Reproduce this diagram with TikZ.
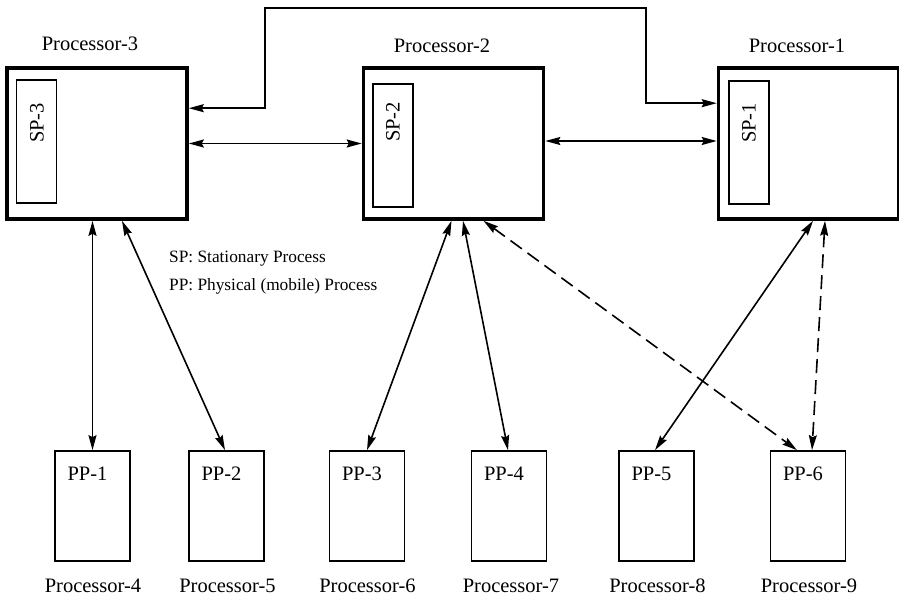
\documentclass[tikz,border=0pt]{standalone}
\usepackage{fontspec}
\setmainfont{Liberation Serif}
\usetikzlibrary{arrows.meta,calc}
\begin{document}
\begin{tikzpicture}[x=1pt,y=-1pt,
  procbox/.style={draw,line width=3.6pt,minimum width=180pt,minimum height=151pt,inner sep=0pt},
  spbox/.style={draw,line width=1.4pt,minimum width=40pt,minimum height=123pt,inner sep=0pt},
  ppbox/.style={draw,line width=1.7pt,minimum width=75pt,minimum height=110pt,inner sep=0pt},
  lbl/.style={font=\fontsize{20.5}{23}\selectfont,inner sep=0pt},
  leg/.style={font=\fontsize{17.3}{20}\selectfont,inner sep=0pt,anchor=base west},
  arr/.style={line width=1.6pt,{Stealth[length=15pt,width=8pt,inset=2pt]}-{Stealth[length=15pt,width=8pt,inset=2pt]}},
  dsh/.style={arr,dash pattern=on 14pt off 7pt}]
\useasboundingbox (0,0) rectangle (899,596);
\fill[white] (0,0) rectangle (899,596);

% Processor boxes
\node[procbox] (p3) at (97,143.5) {};
\node[procbox] (p2) at (453.5,143.5) {};
\node[procbox] (p1) at (808.5,143.5) {};

\node[lbl] (l3) at (90,44) {Processor-3};
\node[lbl] (l2) at (442,46) {Processor-2};
\node[lbl] (l1) at (797,46) {Processor-1};

% SP boxes
\node[spbox] (sp3) at (36.5,141.5) {};
\node[spbox] (sp2) at (393,145.5) {};
\node[spbox] (sp1) at (749,142.5) {};
\node[lbl,rotate=90] (t3) at (37,123) {SP-3};
\node[lbl,rotate=90] (t2) at (393,122) {SP-2};
\node[lbl,rotate=90] (t1) at (749,123) {SP-1};

% PP boxes
\node[ppbox] (pp1) at (92.5,506) {};
\node[ppbox] (pp2) at (226.5,506) {};
\node[ppbox] (pp3) at (367,506) {};
\node[ppbox] (pp4) at (509,506) {};
\node[ppbox] (pp5) at (656.5,506) {};
\node[ppbox] (pp6) at (808,506) {};

\foreach \i in {1,...,6}{
  \node[lbl] (ppt\i) at ($(pp\i.north)+(-5,24)$) {PP-\i};
}
\node[lbl] (q4) at ($(pp1.south)+(0.5,24)$) {Processor-4};
\node[lbl] (q5) at ($(pp2.south)+(1,24)$) {Processor-5};
\node[lbl] (q6) at ($(pp3.south)+(0.5,24)$) {Processor-6};
\node[lbl] (q7) at ($(pp4.south)+(2,24)$) {Processor-7};
\node[lbl] (q8) at ($(pp5.south)+(1,24)$) {Processor-8};
\node[lbl] (q9) at ($(pp6.south)+(1,24)$) {Processor-9};

% Legend
\node[leg] (lg1) at (169,262) {SP: Stationary Process};
\node[leg] (lg2) at (169,290) {PP: Physical (mobile) Process};

% Top bracket connector
\coordinate (a) at ($(p3.north east)+(0,42)$);
\coordinate (b) at ($(p1.north west)+(0,37)$);
\coordinate (top1) at (265,8);
\coordinate (top2) at (646,8);
\draw[arr] (a) -| (top1) -- (top2) |- (b);

% Middle connectors
\draw[arr] (p3.east) -- (p2.west |- p3.east);
\coordinate (c) at ($(p2.east)+(0,-2.5)$);
\draw[arr] (c) -- (p1.west |- c);

% Processor-3 links
\draw[arr] (pp1.north |- p3.south) -- (pp1.north);
\draw[arr] ($(p3.south)+(25,0)$) -- ($(pp2.north)+(-1.5,0)$);

% Processor-2 links
\draw[arr] ($(p2.south)+(-2,0)$) -- (pp3.north);
\draw[arr] ($(p2.south)+(9.5,0)$) -- ($(pp4.north)+(-1,0)$);
\draw[dsh] ($(p2.south)+(30,0)$) -- ($(pp6.north)+(-11,0)$);

% Processor-1 links
\draw[arr] ($(p1.south)+(4.5,0)$) -- ($(pp5.north)+(-1.5,0)$);
\draw[dsh] ($(p1.south)+(16.5,0)$) -- ($(pp6.north)+(4,0)$);
\end{tikzpicture}
\end{document}
